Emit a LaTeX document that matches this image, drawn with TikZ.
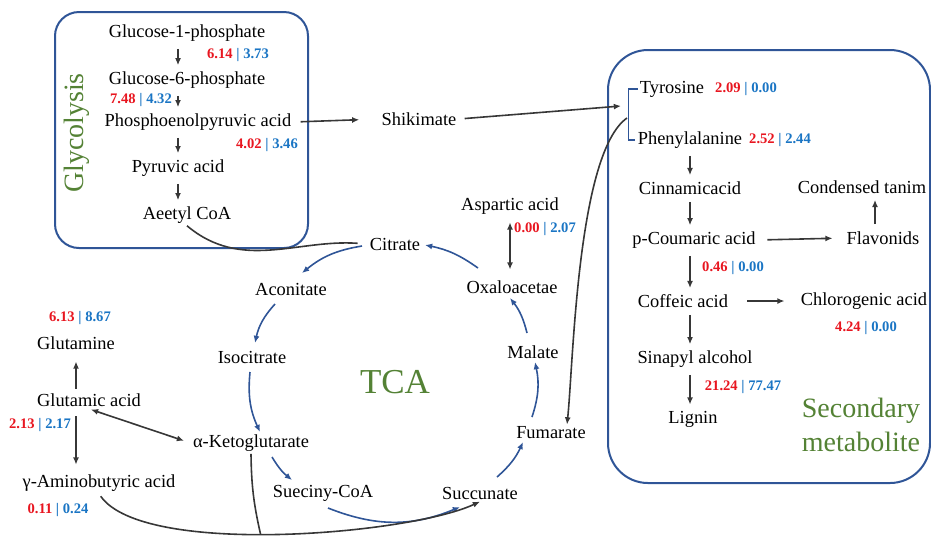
\documentclass[tikz,border=0pt]{standalone}
\usepackage{fontspec}
\setmainfont{Liberation Serif}
\definecolor{boxblue}{RGB}{47,85,151}
\definecolor{valred}{RGB}{232,22,32}
\definecolor{valblue}{RGB}{26,117,196}
\definecolor{labgreen}{RGB}{84,130,53}
\definecolor{arrowgray}{RGB}{55,55,55}
\usetikzlibrary{arrows.meta}
\newcommand{\ratio}[2]{\textcolor{valred}{#1} \textcolor{valblue}{| #2}}

\begin{document}
\begin{tikzpicture}[x=0.5pt, y=0.5pt, >={Latex[length=3.6pt,width=3pt]},
    met/.style={font=\fontsize{9.2}{11}\selectfont, inner sep=1pt},
    val/.style={font=\fontsize{7.3}{9}\selectfont\bfseries, inner sep=0pt},
    flow/.style={->, arrowgray, line width=0.8pt, shorten >=2pt, shorten <=2.5pt},
    link/.style={arrowgray, line width=0.8pt},
    cyc/.style={->, boxblue, line width=0.8pt},
    region/.style={boxblue, line width=1pt}]
    \useasboundingbox (0,0) rectangle (931,-538);
    \draw[region, rounded corners=12pt] (55,-12) rectangle (308,-248);
    \draw[region, rounded corners=20pt] (608,-50) rectangle (930,-483);
    \node[rotate=90, labgreen, font=\fontsize{14}{16}\selectfont] (glyc) at (77,-133) {Glycolysis};
    \node[labgreen, font=\fontsize{17.5}{20}\selectfont] (tca) at (395,-382) {TCA};
    \node[labgreen, align=center, font=\fontsize{14}{17}\selectfont] (second) at (861,-425) {Secondary\\metabolite};

    \node[met] (g1p) at (187,-33) {Glucose-1-phosphate};
    \node[met] (g6p) at (187,-80) {Glucose-6-phosphate};
    \node[met] (pep) at (198,-122) {Phosphoenolpyruvic acid};
    \node[met] (pyr) at (178,-168) {Pyruvic acid};
    \node[met] (acoa) at (187,-215) {Aeetyl CoA};
    \node[val] (rg1p) at (238,-55) {\ratio{6.14}{3.73}};
    \node[val] (rg6p) at (141,-100) {\ratio{7.48}{4.32}};
    \node[val] (rpep) at (267,-145) {\ratio{4.02}{3.46}};
    \draw[flow] (g1p.south -| pyr) -- (g6p.north -| pyr);
    \draw[flow] (g6p.south -| pyr) -- (pep.north -| pyr);
    \draw[flow] (pep.south -| pyr) -- (pyr.north);
    \draw[flow] (pyr.south) -- (acoa.north -| pyr);

    \node[met] (shik) at (419,-119) {Shikimate};
    \draw[flow, shorten <=3.5pt, shorten >=10pt] (pep.east) -- (shik.west);

    \node[met] (tyr) at (672,-89) {Tyrosine};
    \node[met] (phe) at (690,-140) {Phenylalanine};
    \node[met] (cinn) at (690,-188) {Cinnamicacid};
    \node[met] (tann) at (862,-187) {Condensed tanim};
    \node[met] (pcou) at (694,-240) {p-Coumaric acid};
    \node[met] (flav) at (883,-238) {Flavonids};
    \node[met] (coff) at (683,-301) {Coffeic acid};
    \node[met] (chlo) at (864,-301) {Chlorogenic acid};
    \node[met] (sina) at (695,-359) {Sinapyl alcohol};
    \node[met] (lign) at (693,-419) {Lignin};
    \node[val] (rtyr) at (746,-89) {\ratio{2.09}{0.00}};
    \node[val] (rphe) at (780,-140) {\ratio{2.52}{2.44}};
    \node[val] (rpcou) at (733,-268) {\ratio{0.46}{0.00}};
    \node[val] (rchlo) at (866,-328) {\ratio{4.24}{0.00}};
    \node[val] (rsina) at (743,-387) {\ratio{21.24}{77.47}};
    \draw[region, line width=0.9pt] (tyr.west) -- ++(-9,0) |- (phe.west);
    \coordinate (brkin) at (621,-106);
    \coordinate (brkout) at (627,-118);
    \draw[flow, shorten >=0pt, shorten <=3pt] (shik.east) -- (brkin);
    \draw[flow] (phe.south -| cinn) -- (cinn.north);
    \draw[flow] (cinn.south) -- (pcou.north -| cinn);
    \draw[flow] (pcou.south -| cinn) -- (coff.north -| cinn);
    \draw[flow] (coff.south -| cinn) -- (sina.north -| cinn);
    \draw[flow] (sina.south -| cinn) -- (lign.north -| cinn);
    \draw[flow, shorten <=4.7pt, shorten >=5.9pt] (pcou.east) -- (flav.west);
    \draw[flow, shorten <=8.5pt, shorten >=7pt] (coff.east) -- (chlo.west);
    \draw[flow] ([xshift=-4pt]flav.north) -- ([xshift=-4pt]flav.north |- tann.south);

    \node[met] (cit) at (395,-244) {Citrate};
    \node[met] (acon) at (291,-289) {Aconitate};
    \node[met] (isoc) at (252,-357) {Isocitrate};
    \node[met] (akg) at (251,-443) {α-Ketoglutarate};
    \node[met] (succoa) at (323,-493) {Sueciny-CoA};
    \node[met] (succ) at (480,-493) {Succunate};
    \node[met] (fum) at (551,-433) {Fumarate};
    \node[met] (mal) at (533,-352) {Malate};
    \node[met] (oaa) at (512,-287) {Oxaloacetae};
    \node[met] (asp) at (510,-206) {Aspartic acid};
    \node[val] (rasp) at (545,-229) {\ratio{0.00}{2.07}};
    \draw[cyc] ([shift={(-33,-2)}]cit.center) to[bend right=15] ([shift={(11,16)}]acon.center);
    \draw[cyc] ([shift={(-16,-15)}]acon.center) to[bend right=15] ([shift={(3,14)}]isoc.center);
    \draw[cyc] ([shift={(-2,-15)}]isoc.center) to[bend right=15] ([shift={(9,11)}]akg.center);
    \draw[cyc] ([shift={(21,-14)}]akg.center) to[bend right=10] ([shift={(-31,13)}]succoa.center);
    \draw[cyc] ([shift={(5,-15)}]succoa.center) to[bend right=22] ([shift={(-20,-14)}]succ.center);
    \draw[cyc] ([shift={(17,16)}]succ.center) to[bend right=12] ([shift={(-28,-9)}]fum.center);
    \draw[cyc] ([shift={(-19,16)}]fum.center) to[bend right=15] ([shift={(2,-10)}]mal.center);
    \draw[cyc] ([shift={(-6,19)}]mal.center) to[bend right=12] ([shift={(-2,-11)}]oaa.center);
    \draw[cyc] ([shift={(-34,19)}]oaa.center) to[bend right=12] ([shift={(30,-1)}]cit.center);
    \draw[flow, <->, shorten <=2.8pt, shorten >=4.3pt] (asp.south) -- (asp.south |- oaa.north);
    \draw[link, shorten >=5pt] (acoa.south) to[out=-40, in=176] (cit.west);
    \draw[flow, shorten <=0pt, shorten >=0pt] (brkout) to[out=215, in=84, looseness=0.5] ([xshift=8pt]fum.north);

    \node[met] (gln) at (76,-343) {Glutamine};
    \node[met] (glu) at (89,-400) {Glutamic acid};
    \node[met] (gaba) at (99,-483) {γ-Aminobutyric acid};
    \node[val] (rgln) at (80,-318) {\ratio{6.13}{8.67}};
    \node[val] (rglu) at (40,-425) {\ratio{2.13}{2.17}};
    \node[val] (rgaba) at (58,-510) {\ratio{0.11}{0.24}};
    \draw[flow, shorten <=1.3pt, shorten >=4.8pt] (glu.north -| gln) -- (gln.south);
    \draw[flow, shorten <=3.8pt, shorten >=3.8pt] (glu.south -| gln) -- (gaba.north -| gln);
    \draw[flow, <->, shorten <=1pt, shorten >=3.5pt] (glu.south) -- (akg.west);
    \draw[flow, shorten <=1.5pt, shorten >=0pt] (gaba.south) to[out=-55, in=205, looseness=0.52] coordinate[pos=0.46] (join) (succ.south);
    \draw[link] (akg.south) to[bend right=6] (join);
\end{tikzpicture}
\end{document}
